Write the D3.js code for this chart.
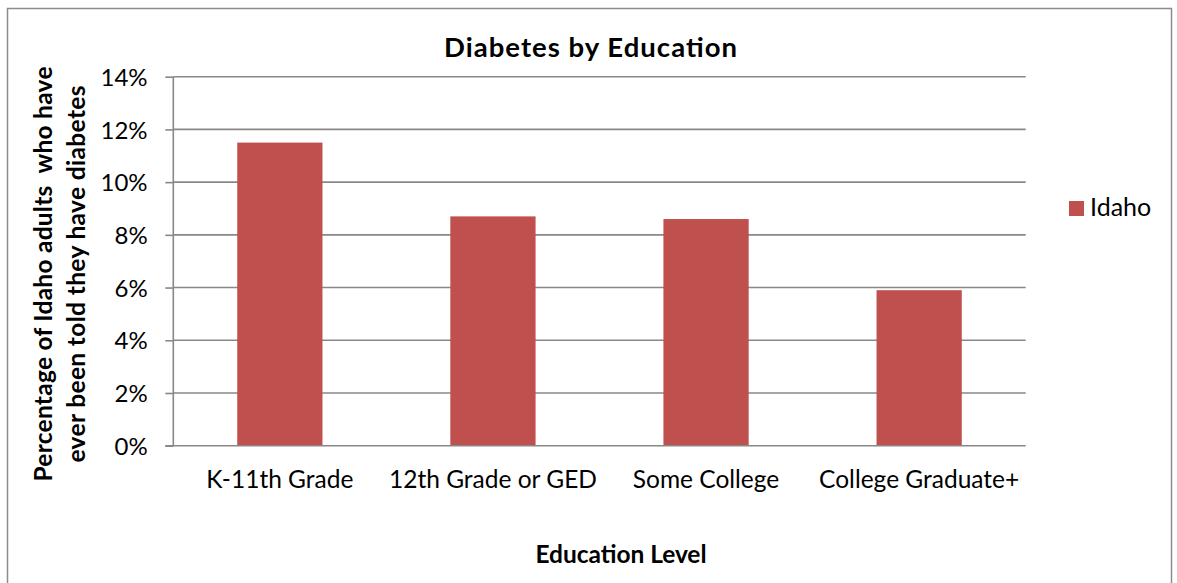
<!DOCTYPE html>
<html><head><meta charset="utf-8">
<script src="https://cdn.jsdelivr.net/npm/d3@7"></script>
<style>body{margin:0;background:#fff;} text{font-family:Lato, "Open Sans", sans-serif;}</style>
</head><body>
<svg id="c" width="1177" height="583"></svg>
<script>
const categories = ["K-11th Grade", "12th Grade or GED", "Some College", "College Graduate+"];
const idahoValues = [11.5, 8.7, 8.6, 5.9];
const yTicks = [0, 2, 4, 6, 8, 10, 12, 14];
const seriesName = "Idaho";
const titleText = "Diabetes by Education";
const xTitle = "Education Level";
const yTitleLines = ["Percentage of Idaho adults  who have", "ever been told they have diabetes"];

(function () {
const svg = d3.select("#c");
const color = "#C0504D", grid = "#888888";

svg.append("rect").attr("x", 7.5).attr("y", 8.5).attr("width", 1164).attr("height", 580)
  .attr("fill", "#fff").attr("stroke", "#8c8c8c").attr("stroke-width", 1.5);

const pl = 173.3, pr = 1025.7, pt = 76.7, pb = 445.7;
const x = d3.scaleBand().domain(categories).range([pl, pr]).paddingInner(0.6).paddingOuter(0.3);
const y = d3.scaleLinear().domain([0, 14]).range([pb, pt]);

svg.append("g").selectAll("line").data(yTicks.filter(d => d > 0)).join("line")
  .attr("x1", pl).attr("x2", pr).attr("y1", d => y(d)).attr("y2", d => y(d))
  .attr("stroke", grid).attr("stroke-width", 1.6);

svg.append("g").selectAll("rect").data(idahoValues).join("rect")
  .attr("x", (d, i) => x(categories[i])).attr("width", x.bandwidth())
  .attr("y", d => y(d)).attr("height", d => pb - y(d))
  .attr("fill", color);

const yAxis = svg.append("g").attr("transform", `translate(${pl},0)`)
  .call(d3.axisLeft(y).tickValues(yTicks).tickFormat(d => d + "%").tickSize(8).tickPadding(17));
yAxis.select(".domain").attr("stroke", grid).attr("stroke-width", 1.6).attr("d", `M0,${pt}V${pb}`);
yAxis.selectAll(".tick line").attr("stroke", grid).attr("stroke-width", 1.6);
yAxis.selectAll(".tick text").attr("font-size", 24).attr("fill", "#000").style("font-family", "Lato")
  .attr("x", -25.7).attr("dy", "0.36em");

const xAxis = svg.append("g").attr("transform", `translate(0,${pb})`)
  .call(d3.axisBottom(x).tickSize(0).tickPadding(22));
xAxis.select(".domain").attr("stroke", grid).attr("stroke-width", 1.6).attr("d", `M${pl - 8},0H${pr}`);
xAxis.selectAll(".tick text").attr("font-size", 24.5).attr("fill", "#000").style("font-family", "Lato")
  .attr("y", 42.3).attr("dy", 0);

svg.append("text").attr("x", 590.5).attr("y", 56.7).attr("text-anchor", "middle")
  .attr("font-size", 27.5).attr("font-weight", "bold")
  .attr("textLength", 293).attr("lengthAdjust", "spacing").text(titleText);
svg.append("text").attr("x", 621).attr("y", 563.3).attr("text-anchor", "middle")
  .attr("font-size", 24.5).attr("font-weight", "bold")
  .attr("textLength", 171).attr("lengthAdjust", "spacing").text(xTitle);
const yLens = [415, 377];
yTitleLines.forEach((t, i) => {
  svg.append("text").attr("transform", `translate(${52 + i * 33},274) rotate(-90)`)
    .attr("text-anchor", "middle").attr("font-size", 24.5).attr("font-weight", "bold")
    .style("white-space", "pre")
    .attr("textLength", yLens[i]).attr("lengthAdjust", "spacing").text(t);
});

svg.append("rect").attr("x", 1069).attr("y", 201).attr("width", 15).attr("height", 15).attr("fill", color);
svg.append("text").attr("x", 1090).attr("y", 215.7).attr("font-size", 25).text(seriesName);
})();
</script>
</body></html>
